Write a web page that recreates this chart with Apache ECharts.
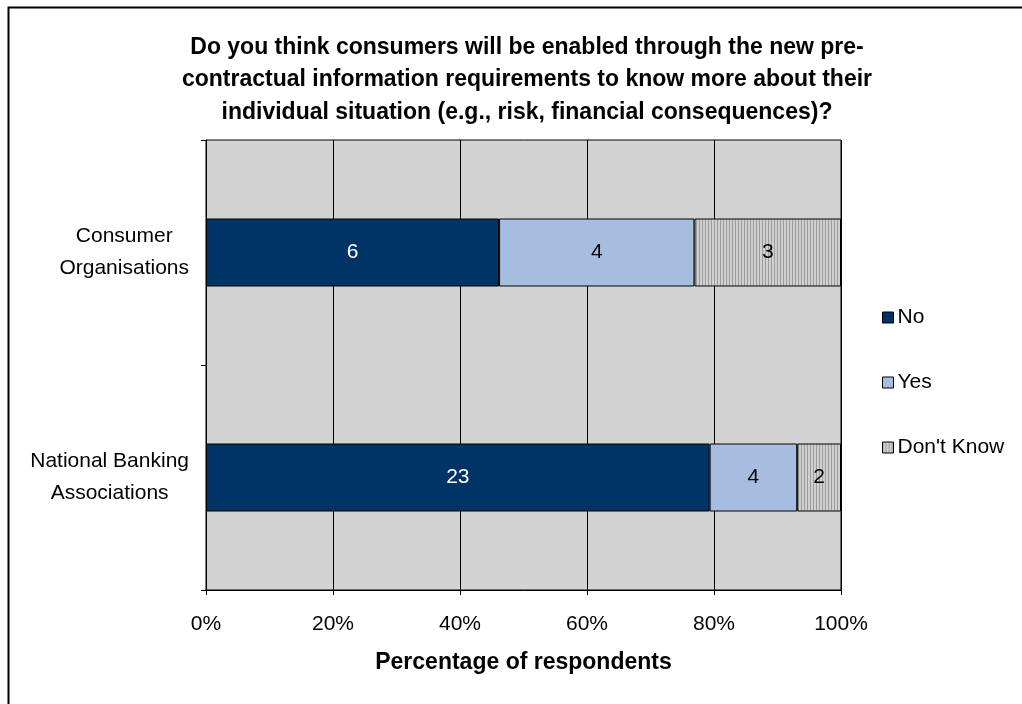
<!DOCTYPE html>
<html>
<head>
<meta charset="utf-8">
<script src="https://cdn.jsdelivr.net/npm/echarts@6/dist/echarts.min.js"></script>
<style>
  html, body { margin: 0; padding: 0; background: #fff; }
  #chart { width: 1022px; height: 704px; }
</style>
</head>
<body>
<div id="chart"></div>
<script>
// Chart data (respondent counts per group)
const categories = ['Consumer\nOrganisations', 'National Banking\nAssociations'];
const seriesNames = ['No', 'Yes', "Don't Know"];
const noCounts = [6, 23];
const yesCounts = [4, 4];
const dontKnowCounts = [3, 2];
const xTicks = [0, 20, 40, 60, 80, 100];

// Totals per category, used to turn counts into percentages
const totals = categories.map((c, i) => noCounts[i] + yesCounts[i] + dontKnowCounts[i]);

function toItems(counts) {
    return counts.map((n, i) => ({ value: n / totals[i] * 100, count: n }));
}

// Vertical stripe pattern for "Don't Know"
function stripePattern() {
    const c = document.createElement('canvas');
    c.width = 3;
    c.height = 4;
    const ctx = c.getContext('2d');
    ctx.fillStyle = '#d0d0d0';
    ctx.fillRect(0, 0, 3, 4);
    ctx.fillStyle = '#9c9c9c';
    ctx.fillRect(0, 0, 1, 4);
    return { image: c, repeat: 'repeat' };
}

const font = '"Liberation Sans", Arial, sans-serif';
const fs = 21;

function barSeries(name, counts, color, labelColor) {
    return {
        name: name,
        type: 'bar',
        stack: 'total',
        barWidth: 68,
        data: toItems(counts),
        itemStyle: { color: color, borderColor: '#000', borderWidth: 1 },
        label: {
            show: true,
            position: 'inside',
            color: labelColor,
            fontFamily: font,
            fontSize: fs,
            formatter: p => String(p.data.count)
        },
        emphasis: { disabled: true }
    };
}

const chart = echarts.init(document.getElementById('chart'));
const option = {
    backgroundColor: '#fff',
    animation: false,
    title: {
        text: 'Do you think consumers will be enabled through the new pre-\ncontractual information requirements to know more about their\nindividual situation (e.g., risk, financial consequences)?',
        left: 522,
        top: 26,
        textAlign: 'center',
        textStyle: {
            fontFamily: font,
            fontSize: 23,
            fontWeight: 'bold',
            color: '#000',
            lineHeight: 32.5
        }
    },
    legend: {
        orient: 'vertical',
        left: 877,
        top: 302,
        itemWidth: 11,
        itemHeight: 11,
        itemGap: 44,
        icon: 'rect',
        selectedMode: false,
        textStyle: { fontFamily: font, fontSize: fs, lineHeight: 21, color: '#000', padding: [0, 0, 0, -1] },
        itemStyle: { borderColor: '#000', borderWidth: 1 },
        data: seriesNames
    },
    grid: {
        left: 206,
        right: 181,
        top: 140,
        bottom: 114,
        show: true,
        backgroundColor: '#d3d3d3',
        borderColor: '#000',
        borderWidth: 1
    },
    xAxis: {
        type: 'value',
        min: xTicks[0],
        max: xTicks[xTicks.length - 1],
        interval: 20,
        name: 'Percentage of respondents',
        nameLocation: 'middle',
        nameGap: 61,
        nameTextStyle: { fontFamily: font, fontSize: 23, fontWeight: 'bold', color: '#000' },
        axisLine: { show: true, lineStyle: { color: '#000', width: 1 } },
        axisTick: { show: true, length: 5, lineStyle: { color: '#000' } },
        axisLabel: { fontFamily: font, fontSize: fs, color: '#000', margin: 24, formatter: '{value}%' },
        splitLine: { show: true, lineStyle: { color: '#000', width: 1 } }
    },
    yAxis: {
        type: 'category',
        inverse: true,
        data: categories,
        axisLine: { show: true, lineStyle: { color: '#000', width: 1 } },
        axisTick: { show: true, length: 5, lineStyle: { color: '#000' } },
        axisLabel: {
            fontFamily: font,
            fontSize: fs,
            color: '#000',
            margin: 17,
            lineHeight: 32,
            formatter: v => v.split('\n').map(s => '{c|' + s + '}').join('\n'),
            rich: { c: { align: 'center', fontFamily: font, fontSize: fs, lineHeight: 32, color: '#000' } }
        },
        splitLine: { show: false }
    },
    series: [
        barSeries(seriesNames[0], noCounts, '#003366', '#fff'),
        barSeries(seriesNames[1], yesCounts, '#a6bde0', '#000'),
        barSeries(seriesNames[2], dontKnowCounts, stripePattern(), '#000')
    ],
    graphic: [{
        type: 'rect',
        left: 6,
        top: 5,
        shape: { width: 1040, height: 720 },
        style: { fill: 'none', stroke: '#000', lineWidth: 2 },
        silent: true
    }]
};
chart.setOption(option);
</script>
</body>
</html>
